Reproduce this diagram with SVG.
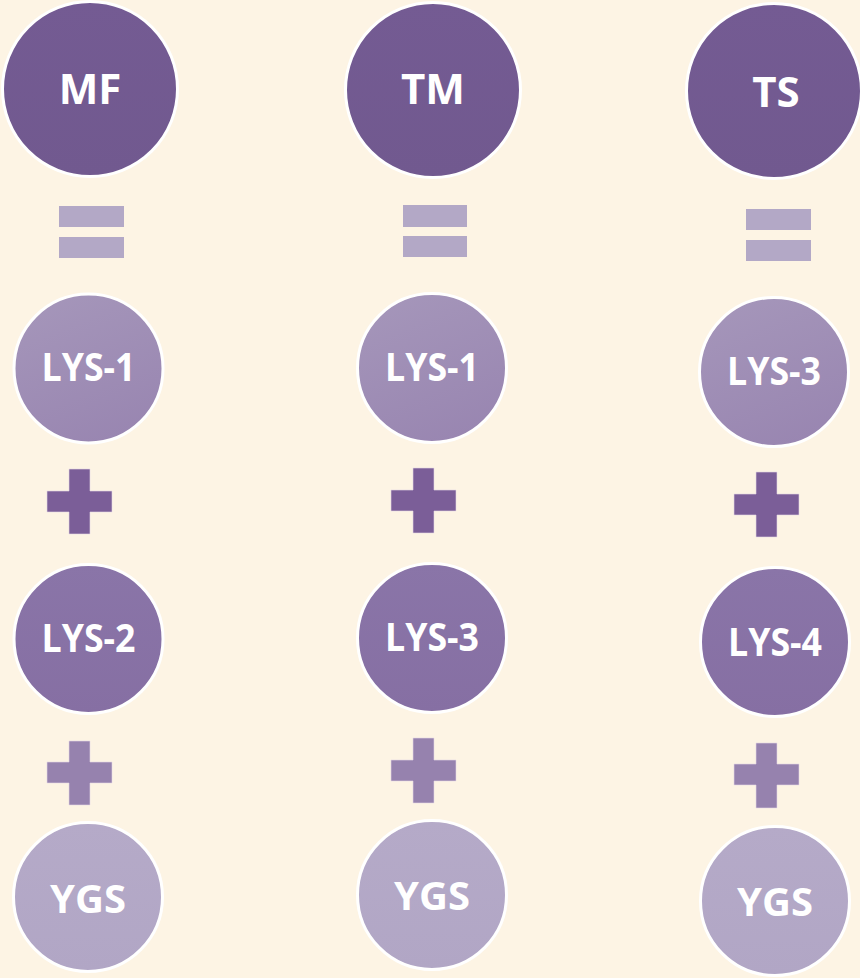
<svg xmlns="http://www.w3.org/2000/svg" width="860" height="978" viewBox="0 0 860 978">
  <defs>
    <linearGradient id="gDark" x1="0" y1="0" x2="0" y2="1">
      <stop offset="0" stop-color="#745b93"/>
      <stop offset="1" stop-color="#71598f"/>
    </linearGradient>
    <linearGradient id="gMid" x1="0" y1="0" x2="0" y2="1">
      <stop offset="0" stop-color="#8a75a8"/>
      <stop offset="1" stop-color="#866fa3"/>
    </linearGradient>
    <linearGradient id="gLight" x1="0.2" y1="0" x2="0.6" y2="1">
      <stop offset="0" stop-color="#a596ba"/>
      <stop offset="1" stop-color="#9986b1"/>
    </linearGradient>
    <linearGradient id="gPale" x1="0" y1="0" x2="0" y2="1">
      <stop offset="0" stop-color="#b5aac8"/>
      <stop offset="1" stop-color="#b1a6c5"/>
    </linearGradient>
  </defs>
  <style>
    .big { fill: url(#gDark); stroke: #ffffff; stroke-width: 3; }
    .c1 { fill: url(#gLight); stroke: #ffffff; stroke-width: 3; }
    .c2 { fill: url(#gMid); stroke: #ffffff; stroke-width: 3; }
    .c3 { fill: url(#gPale); stroke: #ffffff; stroke-width: 3; }
    .lbl { font-family: "Open Sans", "Liberation Sans", sans-serif; font-weight: 700; font-size: 40px; fill: #ffffff; text-anchor: middle; }
    .lblb { font-size: 42px; }
    .eq { fill: #b3a8c6; }
    .p1 { fill: #7b5e98; stroke: #e6d9e6; stroke-width: 0.6; }
    .p2 { fill: #9682ae; stroke: #e6d9e6; stroke-width: 0.6; }
  </style>
  <rect x="0" y="0" width="860" height="978" fill="#fdf4e4"/>

  <!-- Column 1 -->
  <g id="node-MF">
    <circle class="big" cx="90" cy="89" r="87.5"/>
    <text class="lbl lblb" x="90" y="104">MF</text>
  </g>
  <g id="node-col1-LYS-1">
    <circle class="c1" cx="88.5" cy="368.5" r="74.5"/>
    <text class="lbl" x="88.5" y="381" textLength="94" lengthAdjust="spacingAndGlyphs">LYS-1</text>
  </g>
  <g id="node-col1-LYS-2">
    <circle class="c2" cx="88.5" cy="639" r="74.5"/>
    <text class="lbl" x="88.5" y="652" textLength="94" lengthAdjust="spacingAndGlyphs">LYS-2</text>
  </g>
  <g id="node-col1-YGS">
    <circle class="c3" cx="88" cy="897" r="74.5"/>
    <text class="lbl" x="88" y="913">YGS</text>
  </g>

  <!-- Column 2 -->
  <g id="node-TM">
    <circle class="big" cx="433" cy="90" r="87.5"/>
    <text class="lbl lblb" x="433" y="104">TM</text>
  </g>
  <g id="node-col2-LYS-1">
    <circle class="c1" cx="432" cy="368" r="74.5"/>
    <text class="lbl" x="432" y="381" textLength="94" lengthAdjust="spacingAndGlyphs">LYS-1</text>
  </g>
  <g id="node-col2-LYS-3">
    <circle class="c2" cx="432" cy="638" r="74.5"/>
    <text class="lbl" x="432" y="651" textLength="94" lengthAdjust="spacingAndGlyphs">LYS-3</text>
  </g>
  <g id="node-col2-YGS">
    <circle class="c3" cx="432" cy="895" r="74.5"/>
    <text class="lbl" x="432" y="910">YGS</text>
  </g>

  <!-- Column 3 -->
  <g id="node-TS">
    <circle class="big" cx="774" cy="91" r="87.5"/>
    <text class="lbl lblb" x="776" y="107">TS</text>
  </g>
  <g id="node-col3-LYS-3">
    <circle class="c1" cx="774" cy="372" r="74.5"/>
    <text class="lbl" x="774" y="385" textLength="94" lengthAdjust="spacingAndGlyphs">LYS-3</text>
  </g>
  <g id="node-col3-LYS-4">
    <circle class="c2" cx="775" cy="642" r="74.5"/>
    <text class="lbl" x="775" y="656" textLength="94" lengthAdjust="spacingAndGlyphs">LYS-4</text>
  </g>
  <g id="node-col3-YGS">
    <circle class="c3" cx="775" cy="901" r="74.5"/>
    <text class="lbl" x="775" y="916">YGS</text>
  </g>

  <!-- Operators (equals and plus signs) -->
  <g id="operators">
    <rect class="eq" x="59" y="206" width="65" height="21"/>
    <rect class="eq" x="59" y="237" width="65" height="21"/>
    <rect class="eq" x="403" y="205" width="64" height="22"/>
    <rect class="eq" x="403" y="236" width="64" height="21"/>
    <rect class="eq" x="746" y="209" width="65" height="21"/>
    <rect class="eq" x="746" y="240" width="65" height="21"/>

    <path class="p1" d="M69 469h21v22h22v21h-22v22h-21v-22h-22v-21h22z"/>
    <path class="p2" d="M69 741h21v21h22v21h-22v22h-21v-22h-22v-21h22z"/>
    <path class="p1" d="M413 468h21v22h22v21h-22v22h-21v-22h-22v-21h22z"/>
    <path class="p2" d="M413 738h21v22h22v21h-22v22h-21v-22h-22v-21h22z"/>
    <path class="p1" d="M756 472h21v22h22v21h-22v22h-21v-22h-22v-21h22z"/>
    <path class="p2" d="M756 743h21v21h22v21h-22v23h-21v-23h-22v-21h22z"/>
  </g>
</svg>
